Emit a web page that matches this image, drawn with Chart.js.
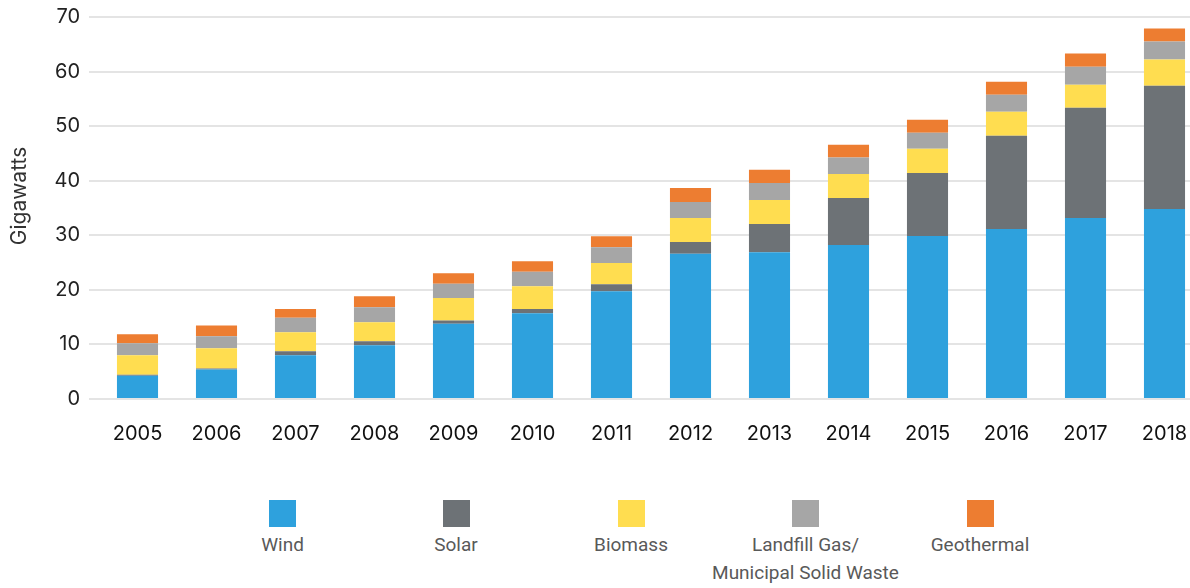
<!DOCTYPE html>
<html>
<head>
<meta charset="utf-8">
<script src="https://cdn.jsdelivr.net/npm/chart.js@4"></script>
<style>
  html, body { margin: 0; padding: 0; background: #fff; overflow: hidden; }
  #wrap { position: relative; width: 1190px; height: 588px; overflow: hidden; }
  #c { position: absolute; left: 0; top: 0; }
  .lg { position: absolute; top: 500px; width: 260px; text-align: center;
        font-family: Roboto, "Noto Sans", sans-serif; font-size: 19px; line-height: 28px; color: #595959; white-space: pre; }
  .lg .sw { width: 27px; height: 27px; margin: 0 auto 4px auto; }
</style>
</head>
<body>
<div id="wrap">
  <canvas id="c" width="1215" height="482"></canvas>
</div>
<script>
const years = ['2005','2006','2007','2008','2009','2010','2011','2012','2013','2014','2015','2016','2017','2018'];
const wind       = [4.26, 5.42, 8.0, 9.83, 13.8, 15.7, 19.75, 26.6, 26.9, 28.2, 29.85, 31.14, 33.16, 34.81];
const solar      = [0.2, 0.18, 0.73, 0.73, 0.6, 0.8, 1.3, 2.15, 5.15, 8.64, 11.58, 17.09, 20.21, 22.6];
const biomass    = [3.55, 3.68, 3.5, 3.5, 4.1, 4.17, 3.85, 4.41, 4.4, 4.41, 4.41, 4.41, 4.23, 4.78];
const landfill   = [2.2, 2.2, 2.65, 2.75, 2.6, 2.63, 2.93, 2.95, 3.15, 3.0, 2.94, 3.12, 3.3, 3.31];
const geothermal = [1.65, 2.0, 1.6, 2.0, 1.95, 1.96, 2.0, 2.55, 2.4, 2.32, 2.39, 2.39, 2.4, 2.39];
const seriesNames = ['Wind', 'Solar', 'Biomass', 'Landfill Gas/\nMunicipal Solid Waste', 'Geothermal'];
const seriesColors = ['#2ea1dd', '#6d7276', '#ffdd50', '#a6a6a6', '#ed7d31'];
const yTicks = [0, 10, 20, 30, 40, 50, 60, 70];
const yTitle = 'Gigawatts';

const seriesData = [wind, solar, biomass, landfill, geothermal];

// y-axis title drawn beside the axis
const yTitlePlugin = {
  id: 'yTitle',
  afterDraw(chart) {
    const ctx = chart.ctx;
    ctx.save();
    ctx.translate(20, 196);
    ctx.rotate(-Math.PI / 2);
    ctx.font = '21px Inter, "Noto Sans", sans-serif';
    ctx.fillStyle = '#333';
    ctx.textAlign = 'center';
    ctx.textBaseline = 'middle';
    ctx.fillText(yTitle, 0, 0);
    ctx.restore();
  }
};

const chart = new Chart(document.getElementById('c'), {
  type: 'bar',
  data: {
    labels: years,
    datasets: seriesData.map((d, i) => ({
      label: seriesNames[i],
      data: d,
      backgroundColor: seriesColors[i],
      borderWidth: 0,
      categoryPercentage: 1.0,
      barPercentage: 0.52
    }))
  },
  plugins: [yTitlePlugin],
  options: {
    responsive: false,
    animation: false,
    devicePixelRatio: 1,
    layout: { padding: { top: 17, right: 11, bottom: 14, left: 0 } },
    plugins: { legend: { display: false }, tooltip: { enabled: false } },
    scales: {
      x: {
        stacked: true,
        grid: { display: false, drawTicks: false },
        border: { display: false },
        afterFit: (s) => { s.height = 69; },
        ticks: {
          color: '#111',
          font: { family: 'Inter, "Noto Sans", sans-serif', size: 20 },
          padding: 23,
          maxRotation: 0,
          autoSkip: false
        }
      },
      y: {
        stacked: true,
        min: 0,
        max: 70,
        afterBuildTicks: (s) => { s.ticks = yTicks.map(v => ({ value: v })); },
        afterFit: (s) => { s.width = 98; s.paddingTop = 0; s.paddingBottom = 0; },
        grid: { color: '#e4e4e4', lineWidth: 2, drawTicks: true, tickLength: 9, tickColor: '#e4e4e4' },
        border: { display: false },
        ticks: {
          color: '#222',
          font: { family: 'Inter, "Noto Sans", sans-serif', size: 20 },
          padding: 9
        },
        title: { display: false }
      }
    }
  }
});

// HTML legend built from the chart's datasets
const legendCenters = [282.5, 456, 631, 805.5, 980];
const wrap = document.getElementById('wrap');
chart.data.datasets.forEach((ds, i) => {
  const item = document.createElement('div');
  item.className = 'lg';
  item.style.left = (legendCenters[i] - 130) + 'px';
  const sw = document.createElement('div');
  sw.className = 'sw';
  sw.style.background = ds.backgroundColor;
  const txt = document.createElement('div');
  txt.textContent = ds.label;
  item.appendChild(sw);
  item.appendChild(txt);
  wrap.appendChild(item);
});
</script>
</body>
</html>
